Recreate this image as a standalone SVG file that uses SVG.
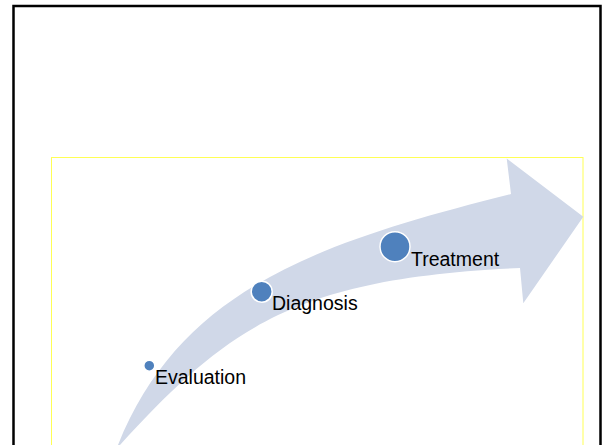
<svg xmlns="http://www.w3.org/2000/svg" width="602" height="445" viewBox="0 0 602 445">
  <style>
    .dot { fill: #4F81BD; stroke: #FFFFFF; stroke-width: 1.5; }
    .lbl { font-family: "Liberation Sans", Arial, sans-serif; font-size: 19.5px; fill: #000000; }
  </style>
  <rect x="0" y="0" width="602" height="445" fill="#FFFFFF"/>
  <rect id="frame" x="13.5" y="6" width="587" height="470" fill="none" stroke="#000000" stroke-width="2.5"/>
  <rect id="area" x="51.5" y="157.5" width="531.5" height="300" fill="none" stroke="#FFFF55" stroke-width="1"/>
  <g id="arrow">
    <path d="M116,449 L118,445 C180.5,290 316,243 511,194 L506.7,158.5 L583.3,216.7 L523.3,303.3 L520,268 C300,278 230,324 120,445 L119,449 Z" fill="#D0D8E8"/>
  </g>
  <g id="connectors"></g>
  <g id="evaluation">
    <circle class="dot" cx="149.3" cy="365.7" r="5.5"/>
    <text class="lbl" x="155" y="383.5">Evaluation</text>
  </g>
  <g id="diagnosis">
    <circle class="dot" cx="261.7" cy="291.7" r="10.5"/>
    <text class="lbl" x="272" y="310">Diagnosis</text>
  </g>
  <g id="treatment">
    <circle class="dot" cx="395" cy="246.7" r="15"/>
    <text class="lbl" x="411" y="265.7">Treatment</text>
  </g>
</svg>
